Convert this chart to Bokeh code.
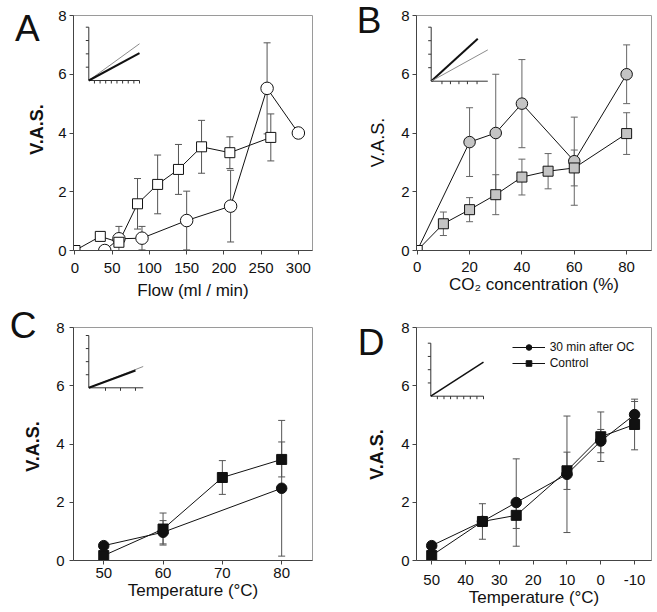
import math
from bokeh.plotting import figure
from bokeh.models import (Range1d, Label, Whisker, TeeHead, ColumnDataSource,
                          FixedTicker, Legend, LegendItem)
from bokeh.layouts import column, row
from bokeh.embed import file_html
from bokeh.resources import INLINE

FONT = "Liberation Sans"

# ---------------- data ----------------
y_ticks = [0, 2, 4, 6, 8]
panel_letters = ["A", "B", "C", "D"]
y_title = "V.A.S."

# Panel A : Flow
a_x_ticks = [0, 50, 100, 150, 200, 250, 300]
a_sq_x = [0, 34, 59, 84, 111, 139, 170, 208, 263]
a_sq_y = [0, 0.48, 0.28, 1.59, 2.25, 2.76, 3.53, 3.33, 3.85]
a_sq_err = [0, 0, 0, 0.86, 1.0, 0.85, 0.9, 0.54, 0.8]
a_ci_x = [0, 40, 59, 90, 150, 209, 258, 300]
a_ci_y = [0, 0, 0.4, 0.42, 1.02, 1.51, 5.52, 4.0]
a_ci_err = [0, 0, 0.42, 0.4, 1.0, 1.22, 1.55, 0]

# Panel B : CO2 concentration
b_x_ticks = [0, 20, 40, 60, 80]
b_sq_x = [0, 10, 20, 30, 40, 50, 60, 80]
b_sq_y = [0, 0.91, 1.39, 1.9, 2.5, 2.7, 2.81, 3.98]
b_sq_err = [0, 0.4, 0.41, 0.68, 0.61, 0.6, 0.61, 0.71]
b_ci_x = [0, 20, 30, 40, 60, 80]
b_ci_y = [0, 3.69, 4.0, 5.0, 3.04, 6.0]
b_ci_err = [0, 1.17, 2.0, 1.5, 1.5, 1.0]

# Panel C : Temperature (heat)
c_x_ticks = [50, 60, 70, 80]
c_sq_x = [50, 60, 70, 80]
c_sq_y = [0.17, 1.08, 2.85, 3.47]
c_sq_err = [0, 0.55, 0.58, 0.6]
c_ci_x = [50, 60, 80]
c_ci_y = [0.51, 0.97, 2.48]
c_ci_err = [0, 0.4, 2.33]

# Panel D : Temperature (cold)
d_x_ticks = [50, 40, 30, 20, 10, 0, -10]
d_x = [50, 35, 25, 10, 0, -10]
d_ci_y = [0.51, 1.34, 1.99, 2.96, 4.1, 5.01]
d_ci_err = [0, 0, 1.5, 2.0, 0.4, 0.45]
d_sq_y = [0.17, 1.34, 1.55, 3.08, 4.25, 4.67]
d_sq_err = [0, 0.61, 0.45, 0.64, 0.85, 0.87]
legend_labels = ["30 min after OC", "Control"]

# insets (unit box, lines from origin)
a_in_xe = [1.0, 1.0]
a_in_ye = [0.689, 0.512]
b_in_xe = [0.823, 1.0]
b_in_ye = [0.785, 0.58]
c_in_xe = [1.0, 0.858]
c_in_ye = [0.407, 0.331]
d_in_xe = [1.0]
d_in_ye = [0.642]

GRAY_LINE = "#8c8c8c"
BLACK = "#111111"


def base_fig(width, height, xr, yr, borders, xticks, ystand, xstand, xlabel, xlstand):
    bl, br, bt, bb = borders
    p = figure(width=width, height=height, x_range=Range1d(*xr), y_range=Range1d(*yr),
               output_backend="svg", toolbar_location=None,
               min_border_left=bl, min_border_right=br,
               min_border_top=bt, min_border_bottom=bb)
    p.grid.visible = False
    p.outline_line_color = "#9a9a9a"
    p.outline_line_width = 1
    p.border_fill_color = "white"
    p.background_fill_color = "white"
    p.xaxis.ticker = FixedTicker(ticks=xticks)
    p.yaxis.ticker = FixedTicker(ticks=y_ticks)
    for ax in (p.xaxis[0], p.yaxis[0]):
        ax.axis_line_color = "#444444"
        ax.major_tick_line_color = "#444444"
        ax.major_tick_in = 0
        ax.major_tick_out = 4
        ax.minor_tick_line_color = None
        ax.major_label_text_font = FONT
        ax.major_label_text_font_size = "15px"
        ax.major_label_text_color = "#111111"
    p.yaxis.major_label_standoff = ystand
    p.xaxis.major_label_standoff = xstand
    p.xaxis.axis_label = xlabel
    p.xaxis.axis_label_text_font = FONT
    p.xaxis.axis_label_text_font_size = "17px"
    p.xaxis.axis_label_text_font_style = "normal"
    p.xaxis.axis_label_text_color = "#111111"
    p.xaxis.axis_label_standoff = xlstand
    return p


def add_side_texts(p, letter, lx, ly, vx, vy, bold):
    # panel letter (horizontal) and y title (rotated), both in the left border
    p.add_layout(Label(x=lx, y=ly, x_units="screen", y_units="screen", text=letter,
                       text_font=FONT, text_font_size="37px", text_color="#111111",
                       text_align="left", text_baseline="alphabetic"), "left")
    p.add_layout(Label(x=vx, y=vy, x_units="screen", y_units="screen", text=y_title,
                       angle=math.pi / 2, text_font=FONT, text_font_size="18px",
                       text_font_style="bold" if bold else "normal", text_color="#111111",
                       text_align="center", text_baseline="alphabetic"), "left")


def add_err(p, x, y, err, color="#555555"):
    xs = [xi for xi, e in zip(x, err) if e > 0]
    up = [yi + e for yi, e in zip(y, err) if e > 0]
    lo = [yi - e for yi, e in zip(y, err) if e > 0]
    src = ColumnDataSource(dict(base=xs, upper=up, lower=lo))
    p.add_layout(Whisker(source=src, base="base", upper="upper", lower="lower",
                         line_color=color, line_width=1,
                         upper_head=TeeHead(size=7, line_color=color, line_width=1),
                         lower_head=TeeHead(size=7, line_color=color, line_width=1)))


def add_inset(p, fw, fh, box, xe, ye, colors, widths, xt):
    L, B0, W, H = box
    p.extra_x_ranges = {"ix": Range1d(-L / W, (fw - L) / W)}
    p.extra_y_ranges = {"iy": Range1d(-B0 / H, (fh - B0) / H)}
    kw = dict(x_range_name="ix", y_range_name="iy")
    p.segment(x0=[0, 0], y0=[0, 0], x1=[0, 1], y1=[1, 0], line_color="#333333", line_width=1, **kw)
    ty = [0.25, 0.5, 0.75, 1.0]
    p.segment(x0=[0] * len(ty), y0=ty, x1=[-3.0 / W] * len(ty), y1=ty,
              line_color="#333333", line_width=1, **kw)
    p.segment(x0=xt, y0=[0] * len(xt), x1=xt, y1=[-3.0 / H] * len(xt),
              line_color="#333333", line_width=1, **kw)
    for x1, y1, c, w in zip(xe, ye, colors, widths):
        p.line([0, x1], [0, y1], line_color=c, line_width=w, **kw)


# ---------------- Panel A ----------------
pa = base_fig(328, 305, (-2.0, 319.0), (0, 8), (73, 16, 15, 55), a_x_ticks, 3, 8,
              "Flow (ml / min)", 5)
add_side_texts(pa, panel_letters[0], -15.5, 222, 26, 121, True)
add_inset(pa, 239, 235, (15.3, 170, 50.7, 53.3), a_in_xe, a_in_ye,
          [GRAY_LINE, BLACK], [1, 2], [i / 9 for i in range(1, 10)])
add_err(pa, a_ci_x, a_ci_y, a_ci_err)
add_err(pa, a_sq_x, a_sq_y, a_sq_err)
pa.line(a_ci_x, a_ci_y, line_color=BLACK, line_width=1)
pa.line(a_sq_x, a_sq_y, line_color=BLACK, line_width=1)
pa.scatter(a_ci_x[1:], a_ci_y[1:], marker="circle", size=12.5, fill_color="white",
           line_color=BLACK, line_width=1)
pa.scatter(a_sq_x, a_sq_y, marker="square", size=10, fill_color="white",
           line_color=BLACK, line_width=1)

# ---------------- Panel B ----------------
pb = base_fig(329, 305, (-0.27, 89.5), (0, 8), (88, 6, 15, 55), b_x_ticks, 3, 7,
              "CO\u2082 concentration (%)", 0)
add_side_texts(pb, panel_letters[1], -16.7, 230, 24, 108, False)
add_inset(pb, 235, 235, (14.7, 169.3, 56.6, 54), b_in_xe, b_in_ye,
          [BLACK, GRAY_LINE], [2, 1], [0.19, 0.34, 0.49, 0.64, 0.81])
add_err(pb, b_ci_x, b_ci_y, b_ci_err, "#666666")
add_err(pb, b_sq_x, b_sq_y, b_sq_err, "#666666")
pb.line(b_ci_x, b_ci_y, line_color=BLACK, line_width=1)
pb.line(b_sq_x, b_sq_y, line_color=BLACK, line_width=1)
pb.scatter(b_ci_x[1:], b_ci_y[1:], marker="circle", size=11.5, fill_color="#c4c4c4",
           line_color=BLACK, line_width=1)
pb.scatter(b_sq_x[1:], b_sq_y[1:], marker="square", size=10, fill_color="#c4c4c4",
           line_color=BLACK, line_width=1)
pb.scatter(b_sq_x[:1], b_sq_y[:1], marker="square", size=10, fill_color="white",
           line_color=BLACK, line_width=1)

# ---------------- Panel C ----------------
pc = base_fig(328, 307, (44.9, 85.2), (0, 8), (73, 16, 22, 52), c_x_ticks, 5, 3,
              "Temperature (\u00b0C)", 0)
add_side_texts(pc, panel_letters[2], -16.7, 235, 26, 114, True)
add_inset(pc, 239, 233, (15.3, 172.7, 54.4, 52.3), c_in_xe, c_in_ye,
          [GRAY_LINE, BLACK], [1, 2], [0.307, 0.583, 0.858])
add_err(pc, c_ci_x, c_ci_y, c_ci_err)
add_err(pc, c_sq_x, c_sq_y, c_sq_err)
pc.line(c_ci_x, c_ci_y, line_color=BLACK, line_width=1)
pc.line(c_sq_x, c_sq_y, line_color=BLACK, line_width=1)
pc.scatter(c_ci_x, c_ci_y, marker="circle", size=10.5, fill_color=BLACK, line_color=BLACK)
pc.scatter(c_sq_x, c_sq_y, marker="square", size=10, fill_color=BLACK, line_color=BLACK)

# ---------------- Panel D ----------------
pd_ = base_fig(329, 307, (54.5, -15.0), (0, 8), (88, 6, 22, 52), d_x_ticks, 3, 10,
               "Temperature (\u00b0C)", 0)
pd_.xaxis.major_label_overrides = {-10: "-10"}
add_side_texts(pd_, panel_letters[3], -13.7, 218, 25, 106, True)
add_inset(pd_, 235, 233, (14.3, 164.3, 52.7, 53), d_in_xe, d_in_ye,
          [BLACK], [1.5], [k / 8 for k in range(1, 9)])
add_err(pd_, d_x, d_ci_y, d_ci_err)
add_err(pd_, d_x, d_sq_y, d_sq_err)
l1 = pd_.line(d_x, d_ci_y, line_color=BLACK, line_width=1)
l2 = pd_.line(d_x, d_sq_y, line_color=BLACK, line_width=1)
s1 = pd_.scatter(d_x, d_ci_y, marker="circle", size=10.5, fill_color=BLACK, line_color=BLACK)
s2 = pd_.scatter(d_x, d_sq_y, marker="square", size=10, fill_color=BLACK, line_color=BLACK)
leg = Legend(items=[LegendItem(label=legend_labels[0], renderers=[l1, s1]),
                    LegendItem(label=legend_labels[1], renderers=[l2, s2])],
             location=(95.7, 189.7), glyph_width=33, glyph_height=14, label_height=14,
             label_text_font=FONT, label_text_font_size="12px", label_text_color="#111111",
             label_standoff=5, spacing=2, padding=5, margin=0,
             border_line_color=None, background_fill_alpha=0)
pd_.add_layout(leg)

layout = column(row(pa, pb), row(pc, pd_))
open("out.html", "w").write(file_html(layout, INLINE))
